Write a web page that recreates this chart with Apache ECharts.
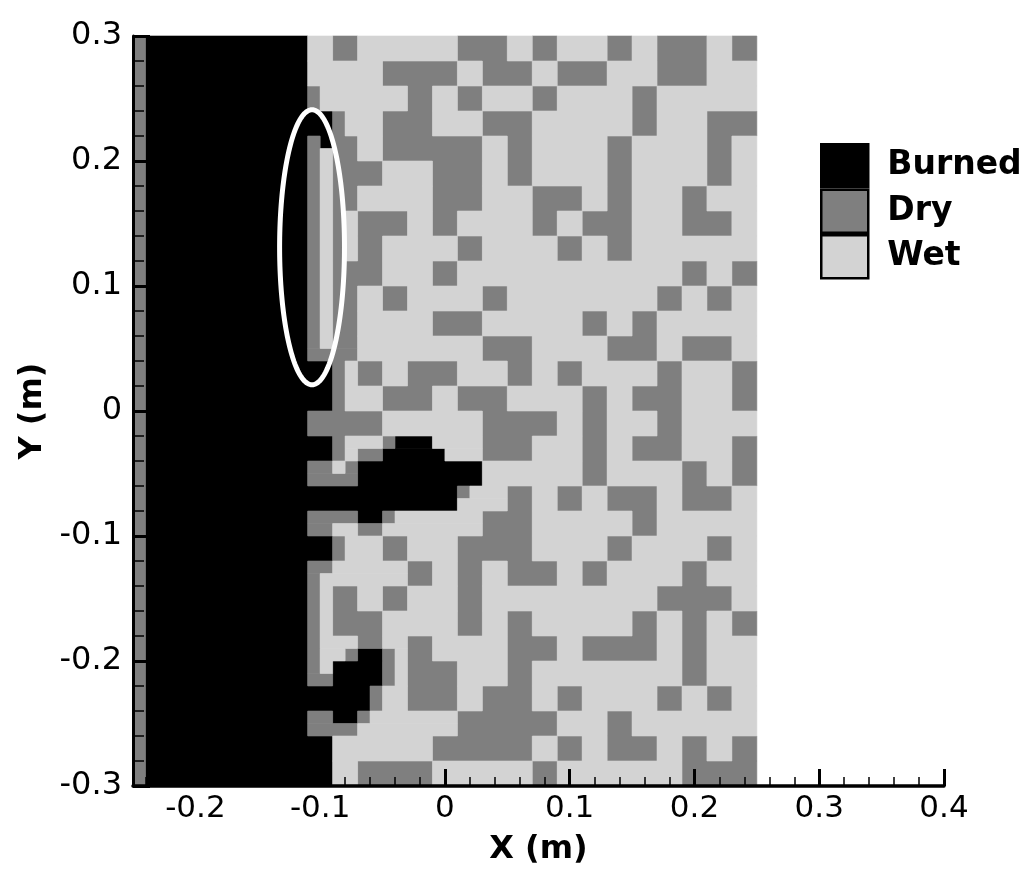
<!DOCTYPE html>
<html><head><meta charset="utf-8">
<script src="https://cdn.jsdelivr.net/npm/echarts@6/dist/echarts.min.js"></script>
<style>html,body{margin:0;padding:0;background:#fff;}#c{width:1034px;height:877px;}</style>
</head><body><div id="c"></div>
<script>
// ---- data ----
const categories = ['Burned', 'Dry', 'Wet'];
const stateCodes = ['B', 'D', 'W'];
const stateColors = ['#000000', '#7f7f7f', '#d3d3d3'];
const xMin = -0.25, yMax = 0.3, coarseStep = 0.02, fineStep = 0.01;
// coarse cells (0.02 m), rows top (y=0.3) to bottom, 25 columns from x=-0.25
const coarseRows = [
  'BBBBBBBW' + 'DWWWWDDWDWWDWDDWD',
  'BBBBBBBW' + 'WWDDDWDDWDDWWDDWW',
  'BBBBBBBD' + 'WWWDWDWWDWWWDWWWW',
  'BBBBBBBB' + 'DWDDWWDDWWWWDWWDD',
  'BBBBBBBD' + 'DWDDDDWDWWWDWWWDW',
  'BBBBBBBD' + 'DDWWDDWDWWWDWWWDW',
  'BBBBBBBD' + 'DWWWDDWWDDWDWWDWW',
  'BBBBBBBD' + 'WDDWDWWWDWDDWWDDW',
  'BBBBBBBD' + 'WDWWWDWWWDWDWWWWW',
  'BBBBBBBD' + 'DDWWDWWWWWWWWWDWD',
  'BBBBBBBD' + 'DWDWWWDWWWWWWDWDW',
  'BBBBBBBD' + 'DWWWDDWWWWDWDWWWW',
  'BBBBBBBD' + 'DWWWWWDDWWWDDWDDW',
  'BBBBBBBB' + 'DDWDDWWDWDWWWDWWD',
  'BBBBBBBB' + 'DWDDWDDWWWDWDDWWD',
  'BBBBBBBD' + 'DDWWWWDDDWDWWDWWW',
  'BBBBBBBB' + 'DWBBWWDDWWDWDDWWD',
  'BBBBBBBD' + 'DBBBBBWWWWDWWWDWD',
  'BBBBBBBB' + 'BBBBBWWDWDWDDWDDW',
  'BBBBBBBD' + 'DBWWWWDDWWWWDWWWW',
  'BBBBBBBB' + 'DWDWWDDDWWWDWWWDW',
  'BBBBBBBD' + 'WWWDWDWDDWDWWWDWW',
  'BBBBBBBD' + 'DWDWWDWWWWWWWDDDW',
  'BBBBBBBD' + 'DDWWWDWDWWWWDWDWD',
  'BBBBBBBD' + 'WBDDWWWDDWDDDWDWW',
  'BBBBBBBD' + 'BBDDDWWDWWWWWWDWW',
  'BBBBBBBB' + 'BBWDDWDDWDWWWDWDW',
  'BBBBBBBD' + 'BDWWWDDDDWWDWWWWW',
  'BBBBBBBB' + 'WWWWDDDDWDWDDWDWD',
  'BBBBBBBB' + 'WDDDWWWWDWWWWWDDD'
];
// fine detail (0.01 m) along the fire front, x from -0.11, rows top to bottom; '.' = use coarse
const fineX0 = -0.11;
const fineRows = [
  'WW............','WW............','WW............','WW............',
  'DW............','DW............','BBDW..........','BBDW..........',
  'DB............','DW............','DW............','DW............',
  'DW............','DW............','DWDW..........','DWDW..........',
  'DWDW..........','DWDW..........','DW............','DW............',
  'DW............','DW............','DW............','DW............',
  'DW............','DD............','BBDW..........','BBDW..........',
  'BBDW..........','BBDW..........','DD............','DD............',
  'BBDWWWDBBBWWWW','BBDWDDBBBBBWWW','DDWDBBBBBBBBBB','DDDDBBBBBBBBBB',
  'BBBBBBBBBBBBDW','BBBBBBBBBBBBWW','DDDDBBDWWWWWWW','DDWWDDWWWWWWWW',
  'BBDW..........','BBDW..........','DDWW..........','DWWW..........',
  'DW............','DW............','DW............','DW............',
  'DWWWDDWW......','DWWDBBDW......','DWBBBBDW......','DDBBBBDW......',
  'BBBBBDWW......','BBBBBDWW......','DDBBDWWW......','DDDDWWWW......',
  'BB............','BB............','BB............','BB............'
];
// thin dry strip along the left boundary
const edgeStrip = { x0: -0.25, x1: -0.24, state: 'D' };
// highlighted region (ellipse), data units: centre x, centre y, radius x, radius y
const ellipseMark = [[-0.1065, 0.131, 0.026, 0.110]];

// ---- build a fine state grid, then merge into rectangles ----
const fineCol0 = Math.round((fineX0 - xMin) / fineStep);
const stripG0 = Math.round((edgeStrip.x0 - xMin) / fineStep);
const stripG1 = Math.round((edgeStrip.x1 - xMin) / fineStep);
function stateAt(g, v) {
  if (g >= stripG0 && g < stripG1) return edgeStrip.state;
  const fg = g - fineCol0;
  if (fg >= 0 && fg < fineRows[0].length) {
    const ch = fineRows[v][fg];
    if (ch !== '.') return ch;
  }
  return coarseRows[Math.floor(v / 2)][Math.floor(g / 2)];
}
const nG = coarseRows[0].length * 2, nV = coarseRows.length * 2;
const r4 = v => Math.round(v * 10000) / 10000;
const cells = { B: [], D: [], W: [] };
let open = {};
for (let v = 0; v <= nV; v++) {
  const runs = {};
  if (v < nV) {
    let g = 0;
    while (g < nG) {
      const s = stateAt(g, v);
      let e = g + 1;
      while (e < nG && stateAt(e, v) === s) e++;
      runs[g + ',' + e + ',' + s] = { g0: g, g1: e, s: s };
      g = e;
    }
  }
  const next = {};
  for (const k in open) {
    if (runs[k]) { next[k] = open[k]; delete runs[k]; }
    else {
      const o = open[k];
      cells[o.s].push([r4(xMin + o.g0 * fineStep), r4(yMax - v * fineStep), r4(xMin + o.g1 * fineStep), r4(yMax - o.v0 * fineStep)]);
    }
  }
  for (const k in runs) next[k] = { g0: runs[k].g0, g1: runs[k].g1, s: runs[k].s, v0: v };
  open = next;
}

function renderCell(params, api) {
  const p0 = api.coord([api.value(0), api.value(3)]);
  const p1 = api.coord([api.value(2), api.value(1)]);
  const col = api.visual('color');
  return { type: 'rect', shape: { x: p0[0], y: p0[1], width: p1[0] - p0[0], height: p1[1] - p0[1] },
    style: { fill: col, stroke: col, lineWidth: 0.6 } };
}
function renderEllipse(params, api) {
  const c = api.coord([api.value(0), api.value(1)]);
  const s = api.size([api.value(2), api.value(3)]);
  const pts = [];
  for (let i = 0; i < 180; i++) {
    const t = i / 180 * Math.PI * 2;
    pts.push([c[0] + s[0] * Math.cos(t), c[1] + s[1] * Math.sin(t)]);
  }
  return { type: 'polygon', shape: { points: pts }, style: { fill: 'none', stroke: '#ffffff', lineWidth: 5 } };
}

const FONT = '"DejaVu Sans", Verdana, sans-serif';
const series = categories.map((name, i) => ({
  name: name, type: 'custom', renderItem: renderCell, z: 2,
  itemStyle: { color: stateColors[i] },
  encode: { x: [0, 2], y: [1, 3] },
  data: cells[stateCodes[i]], animation: false, silent: true
}));
series.push({ name: 'mark', type: 'custom', renderItem: renderEllipse, z: 3,
  encode: { x: 0, y: 1 }, data: ellipseMark, animation: false, silent: true });

const chart = echarts.init(document.getElementById('c'), null, { renderer: 'canvas', width: 1034, height: 877 });
chart.setOption({
  backgroundColor: '#ffffff',
  animation: false,
  grid: { left: 133, top: 36, width: 811, height: 750, containLabel: false, outerBoundsMode: 'none' },
  legend: {
    data: categories, orient: 'vertical', left: 820, top: 143, padding: 0,
    icon: 'rect', itemWidth: 47, itemHeight: 43, itemGap: 0,
    itemStyle: { borderColor: '#000', borderWidth: 2.5 },
    textStyle: { fontFamily: FONT, fontWeight: 'bold', fontSize: 33, lineHeight: 34, color: '#000', padding: [0, 0, 0, 14] },
    selectedMode: false
  },
  xAxis: {
    type: 'value', min: -0.25, max: 0.4, z: 5,
    name: 'X (m)', nameLocation: 'middle', nameGap: 48,
    nameTextStyle: { fontFamily: FONT, fontWeight: 'bold', fontSize: 32, color: '#000' },
    axisLine: { show: true, onZero: false, lineStyle: { color: '#000', width: 3.5 } },
    axisTick: { show: true, inside: true, length: 17, lineStyle: { color: '#000', width: 3 } },
    minorTick: { show: true, splitNumber: 5, length: 9, lineStyle: { color: '#000', width: 1.5 } },
    splitLine: { show: false }, minorSplitLine: { show: false },
    axisLabel: { showMinLabel: false, margin: 7, fontFamily: FONT, fontSize: 31, color: '#000' }
  },
  yAxis: {
    type: 'value', min: -0.3, max: 0.3, z: 5,
    name: 'Y (m)', nameLocation: 'middle', nameGap: 84, nameRotate: 90,
    nameTextStyle: { fontFamily: FONT, fontWeight: 'bold', fontSize: 32, color: '#000' },
    axisLine: { show: true, onZero: false, lineStyle: { color: '#000', width: 3 } },
    axisTick: { show: true, inside: true, length: 17, lineStyle: { color: '#000', width: 3 } },
    minorTick: { show: true, splitNumber: 5, length: 11, lineStyle: { color: '#000', width: 1.5 } },
    splitLine: { show: false }, minorSplitLine: { show: false },
    axisLabel: { margin: 11, fontFamily: FONT, fontSize: 32, color: '#000' }
  },
  series: series
});
</script></body></html>
